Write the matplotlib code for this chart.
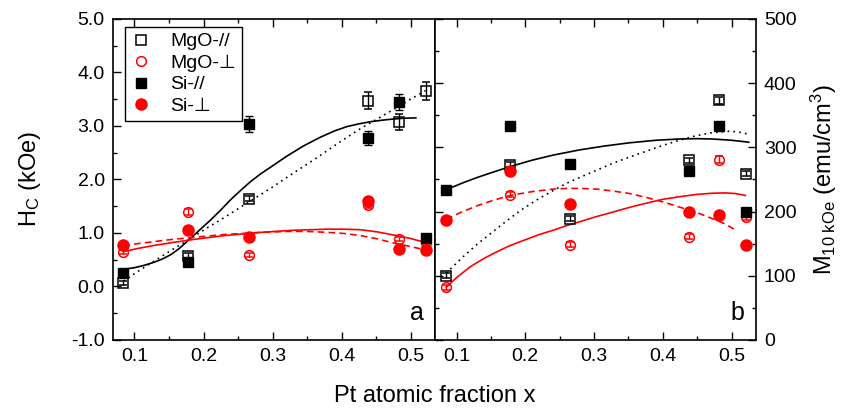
import matplotlib
matplotlib.use("Agg")
import matplotlib.pyplot as plt
from matplotlib.ticker import MultipleLocator, FormatStrFormatter

plt.rcParams['font.family'] = ['Liberation Sans', 'DejaVu Sans']
plt.rcParams['mathtext.fontset'] = 'custom'
plt.rcParams['mathtext.rm'] = 'Liberation Sans'
plt.rcParams['mathtext.it'] = 'Liberation Sans:italic'

RED = '#ff0000'

# Pt atomic fraction of the samples
x_pt = [0.084, 0.178, 0.265, 0.438, 0.482, 0.521]

# coercivity (kOe)
hc_mgo_par = [0.06, 0.57, 1.64, 3.47, 3.07, 3.66]
hc_mgo_par_err = [0.04, 0.05, 0.05, 0.16, 0.15, 0.17]
hc_mgo_perp = [0.64, 1.39, 0.59, 1.52, 0.89, 0.82]
hc_mgo_perp_err = [0.04, 0.05, 0.04, 0.05, 0.04, 0.04]
hc_si_par = [0.25, 0.46, 3.03, 2.78, 3.45, 0.91]
hc_si_par_err = [0.03, 0.06, 0.15, 0.13, 0.15, 0.03]
hc_si_perp = [0.78, 1.06, 0.92, 1.59, 0.70, 0.68]
hc_si_perp_err = [0.03, 0.03, 0.03, 0.06, 0.03, 0.03]

# magnetisation at 10 kOe (emu/cm3)
m_mgo_par = [100, 273, 189, 280, 373, 259]
m_mgo_perp = [82, 226, 148, 161, 281, 191]
m_si_par = [234, 333, 274, 263, 333, 200]
m_si_perp = [187, 263, 212, 199, 194, 148]
m_err = [4, 4, 4, 4, 5, 4]

# fitted trend curves, panel a
fa_si_par_x = [0.084, 0.100, 0.113, 0.128, 0.140, 0.152, 0.164, 0.176, 0.193, 0.210,
               0.225, 0.239, 0.254, 0.268, 0.282, 0.297, 0.321, 0.345, 0.369, 0.390,
               0.408, 0.425, 0.442, 0.460, 0.475, 0.490, 0.507]
fa_si_par_y = [0.32, 0.35, 0.39, 0.45, 0.51, 0.59, 0.70, 0.84, 1.04, 1.24,
               1.43, 1.62, 1.80, 1.96, 2.10, 2.23, 2.44, 2.63, 2.79, 2.91,
               2.99, 3.04, 3.08, 3.11, 3.13, 3.145, 3.15]
fa_mgo_par_x = [0.084, 0.105, 0.128, 0.155, 0.181, 0.202, 0.224, 0.246, 0.268, 0.300,
                0.330, 0.355, 0.379, 0.403, 0.427, 0.451, 0.475, 0.498, 0.521]
fa_mgo_par_y = [0.10, 0.28, 0.47, 0.69, 0.89, 1.07, 1.24, 1.42, 1.60, 1.86,
                2.12, 2.33, 2.54, 2.75, 2.95, 3.13, 3.31, 3.49, 3.66]
fa_mgo_perp_x = [0.084, 0.105, 0.130, 0.155, 0.181, 0.205, 0.230, 0.256, 0.282, 0.305,
                 0.330, 0.355, 0.379, 0.403, 0.427, 0.451, 0.475, 0.498, 0.521]
fa_mgo_perp_y = [0.65, 0.71, 0.77, 0.82, 0.87, 0.91, 0.95, 0.98, 1.01, 1.03,
                 1.05, 1.06, 1.07, 1.07, 1.06, 1.02, 0.96, 0.90, 0.82]
fa_si_perp_x = [0.084, 0.105, 0.130, 0.155, 0.181, 0.205, 0.230, 0.256, 0.282, 0.305,
                0.330, 0.355, 0.379, 0.403, 0.427, 0.451, 0.475, 0.498, 0.521]
fa_si_perp_y = [0.76, 0.80, 0.84, 0.88, 0.91, 0.94, 0.97, 0.99, 1.01, 1.02,
                1.03, 1.025, 1.01, 0.99, 0.95, 0.89, 0.81, 0.75, 0.68]

# fitted trend curves, panel b
fb_si_par_x = [0.085, 0.110, 0.130, 0.155, 0.178, 0.210, 0.241, 0.279, 0.315, 0.351,
               0.390, 0.424, 0.450, 0.472, 0.500, 0.525]
fb_si_par_y = [234, 245, 253, 262, 270, 280, 288, 296, 302, 307,
               311, 313, 313.5, 313, 311, 308]
fb_mgo_par_x = [0.085, 0.110, 0.130, 0.144, 0.170, 0.192, 0.215, 0.241, 0.260, 0.279,
                0.303, 0.327, 0.352, 0.376, 0.400, 0.424, 0.448, 0.472, 0.496, 0.510,
                0.522]
fb_mgo_par_y = [104, 130, 149, 161, 183, 201, 217, 233, 244, 253,
                264, 275, 285, 294, 303, 311, 318, 323, 325, 324,
                321]
fb_si_perp_x = [0.085, 0.105, 0.130, 0.155, 0.178, 0.210, 0.241, 0.260, 0.279, 0.303,
                0.327, 0.352, 0.376, 0.400, 0.424, 0.448, 0.472, 0.490, 0.506]
fb_si_perp_y = [188, 198, 209, 218, 225, 231, 235, 236, 236, 235,
                232, 228, 222, 215, 207, 199, 189, 181, 171]
fb_mgo_perp_x = [0.085, 0.100, 0.120, 0.140, 0.160, 0.178, 0.200, 0.220, 0.241, 0.260,
                 0.279, 0.300, 0.327, 0.350, 0.376, 0.400, 0.424, 0.448, 0.472, 0.490,
                 0.506, 0.520]
fb_mgo_perp_y = [82, 97, 114, 127, 138, 147, 156, 164, 171, 178,
                 184, 191, 199, 206, 213, 219, 223, 226.5, 228.5, 229,
                 228, 225]

fig = plt.figure(figsize=(8.5, 4.12), dpi=100)
ax1 = fig.add_axes([0.133, 0.175, 0.379, 0.779])
ax2 = fig.add_axes([0.512, 0.175, 0.377, 0.779])

dotted = (0, (1, 2.5))
dashed = (0, (4, 2.5))

# panel a: coercivity
ax1.plot(fa_si_par_x, fa_si_par_y, color='black', lw=1.2)
ax1.plot(fa_mgo_par_x, fa_mgo_par_y, color='black', lw=1.2, ls=dotted)
ax1.plot(fa_mgo_perp_x, fa_mgo_perp_y, color=RED, lw=1.2)
ax1.plot(fa_si_perp_x, fa_si_perp_y, color=RED, lw=1.2, ls=dashed)

eb = dict(capsize=3, elinewidth=1, capthick=1, ls='none')
ax1.errorbar(x_pt, hc_mgo_par, yerr=hc_mgo_par_err, marker='s', ms=6.5,
             mfc='none', mec='black', mew=1.1, ecolor='black', **eb)
ax1.errorbar(x_pt, hc_mgo_perp, yerr=hc_mgo_perp_err, marker='o', ms=7,
             mfc='none', mec=RED, mew=1.1, ecolor=RED, **eb)
ax1.errorbar(x_pt, hc_si_par, yerr=hc_si_par_err, marker='s', ms=7,
             mfc='black', mec='black', ecolor='black', **eb)
ax1.errorbar(x_pt, hc_si_perp, yerr=hc_si_perp_err, marker='o', ms=8,
             mfc=RED, mec=RED, ecolor=RED, **eb)

ax1.set_xlim(0.069, 0.535)
ax1.set_ylim(-1.0, 5.0)
ax1.yaxis.set_major_locator(MultipleLocator(1.0))
ax1.yaxis.set_minor_locator(MultipleLocator(0.5))
ax1.yaxis.set_major_formatter(FormatStrFormatter('%.1f'))
ax1.set_ylabel('H$_\\mathrm{C}$ (kOe)', fontsize=17, labelpad=20)
ax1.tick_params(axis='y', which='both', direction='in', left=True, right=False)
ax1.text(0.965, 0.045, 'a', transform=ax1.transAxes, fontsize=18,
         ha='right', va='bottom')

leg = ax1.legend([plt.Line2D([], [], ls='none', marker='s', ms=6.5, mfc='none', mec='black', mew=1.1),
                  plt.Line2D([], [], ls='none', marker='o', ms=7, mfc='none', mec=RED, mew=1.1),
                  plt.Line2D([], [], ls='none', marker='s', ms=7, mfc='black', mec='black'),
                  plt.Line2D([], [], ls='none', marker='o', ms=8, mfc=RED, mec=RED)],
                 ['MgO-//', 'MgO-\u22a5', 'Si-//', 'Si-\u22a5'],
                 loc='upper left', bbox_to_anchor=(0.038, 0.975), borderaxespad=0,
                 fontsize=14, fancybox=False, framealpha=1, edgecolor='black',
                 handlelength=1.0, handletextpad=1.0, labelspacing=0.2,
                 borderpad=0.3)
leg.get_frame().set_linewidth(1.0)

# panel b: magnetisation
ax2.plot(fb_si_par_x, fb_si_par_y, color='black', lw=1.2)
ax2.plot(fb_mgo_par_x, fb_mgo_par_y, color='black', lw=1.2, ls=dotted)
ax2.plot(fb_si_perp_x, fb_si_perp_y, color=RED, lw=1.2, ls=dashed)
ax2.plot(fb_mgo_perp_x, fb_mgo_perp_y, color=RED, lw=1.2)

ax2.errorbar(x_pt, m_mgo_par, yerr=m_err, marker='s', ms=6.5,
             mfc='none', mec='black', mew=1.1, ecolor='black', **eb)
ax2.errorbar(x_pt, m_mgo_perp, yerr=m_err, marker='o', ms=7,
             mfc='none', mec=RED, mew=1.1, ecolor=RED, **eb)
ax2.errorbar(x_pt, m_si_par, yerr=m_err, marker='s', ms=7,
             mfc='black', mec='black', ecolor='black', **eb)
ax2.errorbar(x_pt, m_si_perp, yerr=m_err, marker='o', ms=8,
             mfc=RED, mec=RED, ecolor=RED, **eb)

ax2.set_xlim(0.069, 0.535)
ax2.set_ylim(0, 500)
ax2.yaxis.set_major_locator(MultipleLocator(100))
ax2.yaxis.set_minor_locator(MultipleLocator(50))
ax2.yaxis.set_label_position('right')
ax2.set_ylabel('M$_\\mathrm{10\\ kOe}$ (emu/cm$^\\mathrm{3}$)', fontsize=17, labelpad=9)
ax2.tick_params(axis='y', which='both', direction='in', left=True, right=True,
                labelleft=False, labelright=True)
ax2.text(0.965, 0.045, 'b', transform=ax2.transAxes, fontsize=18,
         ha='right', va='bottom')

for ax in (ax1, ax2):
    ax.xaxis.set_major_locator(MultipleLocator(0.1))
    ax.xaxis.set_minor_locator(MultipleLocator(0.05))
    ax.xaxis.set_major_formatter(FormatStrFormatter('%.1f'))
    ax.tick_params(axis='x', which='both', direction='in', top=True, bottom=True)
    ax.tick_params(which='major', length=6, width=1, labelsize=14, pad=6)
    ax.tick_params(which='minor', length=3, width=1)
    for sp in ax.spines.values():
        sp.set_linewidth(1.2)

fig.text(0.512, 0.012, 'Pt atomic fraction x', ha='center', va='bottom', fontsize=17)

fig.savefig('out.png', dpi=100)
